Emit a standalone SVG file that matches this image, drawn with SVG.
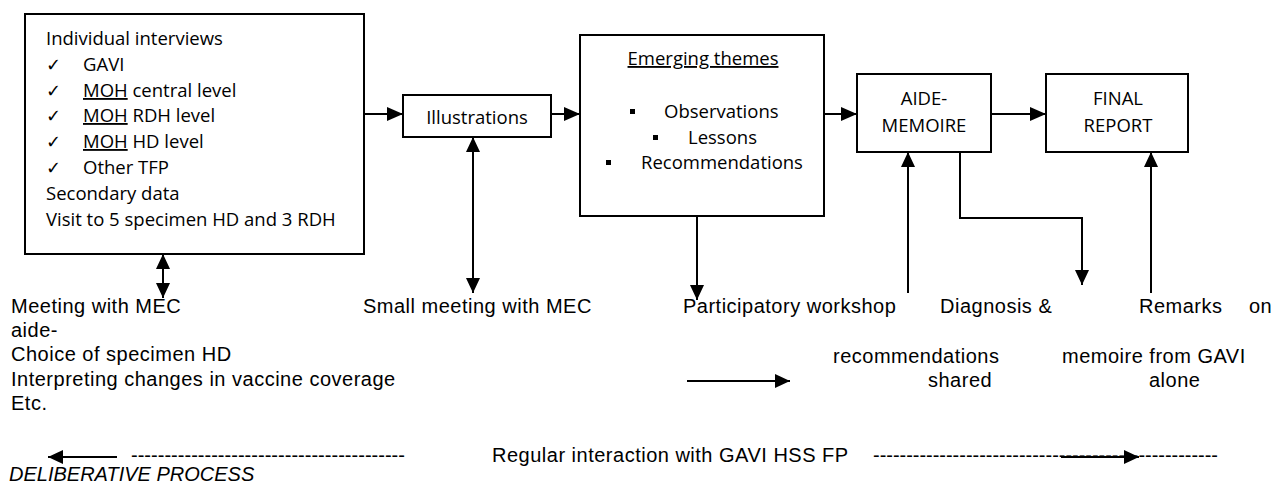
<svg xmlns="http://www.w3.org/2000/svg" width="1276" height="486" viewBox="0 0 1276 486">
<style>
.box{fill:#fff;stroke:#000;stroke-width:2}
.bt{font-family:"Open Sans","Liberation Sans",sans-serif;font-size:18.5px;fill:#000}
.ck{font-family:"DejaVu Sans",sans-serif;font-size:18px;fill:#000}
.lt{font-family:"Liberation Sans",Arial,sans-serif;font-size:20px;letter-spacing:0.5px;fill:#000}
.it{font-family:"Liberation Sans",Arial,sans-serif;font-size:20px;font-style:italic;fill:#000}
.ds{font-family:"Liberation Sans",Arial,sans-serif;font-size:20px;fill:#000}
.c{fill:none;stroke:#000;stroke-width:2}
.u{text-decoration:underline}
</style>
<defs>
<marker id="big" viewBox="0 0 16 14" markerWidth="16" markerHeight="14" refX="16" refY="7" orient="auto-start-reverse" markerUnits="userSpaceOnUse"><path d="M0,0 L16,7 L0,14 z" fill="#000"/></marker>
<marker id="sm" viewBox="0 0 15 14" markerWidth="15" markerHeight="14" refX="15" refY="7" orient="auto-start-reverse" markerUnits="userSpaceOnUse"><path d="M0,0 L15,7 L0,14 z" fill="#000"/></marker>
</defs>
<rect width="1276" height="486" fill="#fff"/>

<g id="node-interviews">
<rect class="box" x="25" y="14" width="339" height="240"/>
<text class="bt" x="46" y="45">Individual interviews</text>
<text class="ck" x="46" y="71">✓</text><text class="bt" x="83" y="71">GAVI</text>
<text class="ck" x="46" y="97">✓</text><text class="bt" x="83" y="97"><tspan class="u">MOH</tspan> central level</text>
<text class="ck" x="46" y="122">✓</text><text class="bt" x="83" y="122"><tspan class="u">MOH</tspan> RDH level</text>
<text class="ck" x="46" y="148">✓</text><text class="bt" x="83" y="148"><tspan class="u">MOH</tspan> HD level</text>
<text class="ck" x="46" y="174">✓</text><text class="bt" x="83" y="174">Other TFP</text>
<text class="bt" x="46" y="200">Secondary data</text>
<text class="bt" x="46" y="226">Visit to 5 specimen HD and 3 RDH</text>
</g>

<g id="node-illustrations">
<rect class="box" x="403" y="95" width="148" height="42"/>
<text class="bt" x="477" y="124" text-anchor="middle">Illustrations</text>
</g>

<g id="node-themes">
<rect class="box" x="580" y="35" width="244" height="181"/>
<text class="bt u" x="703" y="65" text-anchor="middle">Emerging themes</text>
<rect x="630" y="109" width="5" height="5" fill="#000"/>
<text class="bt" x="664" y="118">Observations</text>
<rect x="653" y="135" width="5" height="5" fill="#000"/>
<text class="bt" x="688" y="144">Lessons</text>
<rect x="606" y="160" width="5" height="5" fill="#000"/>
<text class="bt" x="641" y="169">Recommendations</text>
</g>

<g id="node-aide">
<rect class="box" x="857" y="74" width="134" height="78"/>
<text class="bt" x="924" y="105" text-anchor="middle">AIDE-</text>
<text class="bt" x="924" y="132" text-anchor="middle">MEMOIRE</text>
</g>

<g id="node-final">
<rect class="box" x="1046" y="74" width="142" height="78"/>
<text class="bt" x="1118" y="105" text-anchor="middle">FINAL</text>
<text class="bt" x="1118" y="132" text-anchor="middle">REPORT</text>
</g>

<g id="connectors">
<line class="c" x1="364" y1="114" x2="403" y2="114" marker-end="url(#big)"/>
<line class="c" x1="551" y1="114" x2="580" y2="114" marker-end="url(#big)"/>
<line class="c" x1="824" y1="114" x2="857" y2="114" marker-end="url(#big)"/>
<line class="c" x1="991" y1="114" x2="1046" y2="114" marker-end="url(#big)"/>
<line class="c" x1="163" y1="254" x2="163" y2="298" marker-start="url(#sm)" marker-end="url(#sm)"/>
<line class="c" x1="473" y1="137" x2="473" y2="293" marker-start="url(#sm)" marker-end="url(#sm)"/>
<line class="c" x1="697" y1="216" x2="697" y2="300" marker-end="url(#sm)"/>
<line class="c" x1="908" y1="293" x2="908" y2="152" marker-end="url(#sm)"/>
<polyline class="c" points="960,152 960,218 1082,218 1082,285" marker-end="url(#sm)"/>
<line class="c" x1="1151" y1="293" x2="1151" y2="152" marker-end="url(#sm)"/>
<line class="c" x1="687" y1="381" x2="790" y2="381" marker-end="url(#sm)"/>
<line class="c" x1="117" y1="457" x2="48" y2="457" marker-end="url(#sm)"/>
<line class="c" x1="1061" y1="457" x2="1139" y2="457" marker-end="url(#sm)"/>
</g>

<g id="labels">
<text class="lt" x="11" y="313">Meeting with MEC</text>
<text class="lt" x="11" y="337">aide-</text>
<text class="lt" x="11" y="361">Choice of specimen HD</text>
<text class="lt" x="11" y="386">Interpreting changes in vaccine coverage</text>
<text class="lt" x="11" y="410">Etc.</text>
<text class="lt" x="363" y="313">Small meeting with MEC</text>
<text class="lt" x="683" y="313">Participatory workshop</text>
<text class="lt" x="940" y="313">Diagnosis &amp;</text>
<text class="lt" x="1139" y="313">Remarks</text>
<text class="lt" x="1249" y="313">on</text>
<text class="lt" x="833" y="363">recommendations</text>
<text class="lt" x="928" y="387">shared</text>
<text class="lt" x="1062" y="363">memoire from GAVI</text>
<text class="lt" x="1149" y="387">alone</text>
<text class="ds" x="131" y="462" textLength="274" lengthAdjust="spacingAndGlyphs">-----------------------------------------</text>
<text class="lt" x="492" y="462">Regular interaction with GAVI HSS FP</text>
<text class="ds" x="873" y="462" textLength="345" lengthAdjust="spacingAndGlyphs">----------------------------------------------------</text>
<text class="it" x="9" y="481">DELIBERATIVE PROCESS</text>
</g>
</svg>
